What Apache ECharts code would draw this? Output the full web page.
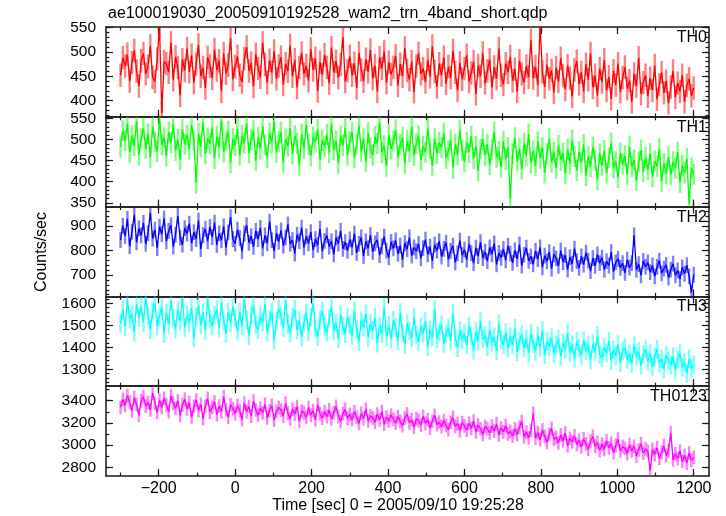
<!DOCTYPE html>
<html><head><meta charset="utf-8">
<script src="https://cdn.jsdelivr.net/npm/echarts@6/dist/echarts.min.js"></script>
<style>html,body{margin:0;padding:0;background:#fff}#c{width:726px;height:516px}</style>
</head><body><div id="c"></div>
<script>
// time grid of the light curve (seconds from 2005/09/10 19:25:28)
const tStart = -300, tStep = 6;

const th0 = [452,488,471,495,440,478,503,461,430,482,
497,455,470,512,448,439,486,552,375,480,
476,458,519,443,490,468,411,484,462,507,
459,493,437,475,514,450,468,426,489,471,
446,505,463,482,419,497,456,473,528,444,
470,491,452,438,486,510,461,477,429,495,
466,448,519,474,437,483,458,502,445,471,
489,433,476,461,513,450,484,427,468,498,
455,472,441,506,463,487,420,479,453,494,
468,436,509,458,481,447,474,531,439,462,
491,452,477,426,498,463,440,485,459,504,
445,472,419,488,466,501,437,479,454,468,
492,431,475,450,508,462,443,480,418,471,
497,455,466,438,484,449,512,460,428,476,
452,489,435,470,447,503,458,421,478,444,
466,493,439,457,480,414,472,450,498,436,
461,484,427,469,445,507,452,433,476,458,
490,441,465,419,482,455,437,471,448,524,
446,470,432,553,459,428,474,445,462,417,
468,439,487,451,423,472,446,409,463,481,
434,458,419,475,443,497,427,452,411,466,
438,484,421,449,404,461,432,476,418,447,
469,425,441,398,455,430,488,414,437,452,
409,446,421,472,403,433,458,416,440,395,
428,461,407,436,419,452,398,431,445,410,426];

const th1 = [482,521,497,538,470,509,486,544,463,502,
527,479,513,458,531,495,472,549,488,506,
461,518,493,536,474,500,452,524,489,511,
477,535,498,397,515,483,541,466,503,490,
529,455,508,481,547,471,497,519,445,502,
486,526,463,509,492,538,468,499,521,450,
505,478,532,487,457,514,493,543,470,496,
518,446,501,484,527,466,509,491,440,513,
479,535,488,461,506,494,524,452,498,483,
512,469,538,476,497,444,509,486,528,463,
495,518,457,489,534,472,501,448,516,480,
463,507,491,541,469,485,437,512,478,496,
523,459,488,505,444,497,472,531,462,490,
509,451,484,470,526,479,438,502,467,493,
481,515,456,473,498,432,489,464,522,475,
447,493,470,508,455,484,426,477,501,462,
489,441,476,518,458,472,435,496,453,481,
360,467,504,449,478,430,491,462,513,445,
473,438,495,456,481,421,466,502,447,470,
432,486,451,468,419,477,443,498,460,427,
471,445,488,414,459,436,482,451,405,466,
439,474,421,457,492,433,449,410,468,442,
461,418,483,436,452,403,447,475,424,458,
429,466,412,449,437,478,401,443,420,459,
416,447,432,470,398,439,421,455,348,433,417];

const th2 = [842,901,858,928,817,876,945,833,889,861,
912,826,870,953,848,884,809,897,866,930,
837,879,902,815,864,940,852,823,891,868,
909,829,874,846,921,805,862,887,838,896,
854,913,822,869,841,898,811,873,935,846,
827,884,850,796,867,903,831,858,814,879,
846,892,808,861,829,917,842,798,870,835,
881,819,853,906,826,842,787,864,838,893,
812,857,829,874,801,846,822,888,797,839,
861,815,838,784,852,827,879,806,834,798,
845,812,868,790,826,853,777,837,809,862,
794,829,843,781,817,856,799,772,835,808,
841,786,819,762,830,805,853,779,812,797,
826,768,809,844,784,815,757,823,799,838,
775,806,832,764,798,819,751,788,840,781,
803,762,826,789,748,811,777,834,769,795,
756,812,784,829,743,790,770,806,759,818,
787,749,801,765,824,738,782,811,757,776,
743,798,764,812,731,779,755,793,726,784,
768,737,799,752,781,722,773,745,807,756,
729,776,742,791,758,716,769,737,784,748,
771,722,756,738,793,713,751,766,729,748,
709,762,730,748,861,721,744,698,757,733,
751,712,739,694,733,758,707,726,741,689,
722,746,698,719,683,731,705,740,694,628,702];

const th3 = [1508,1572,1493,1619,1527,1551,1468,1596,1534,1587,
1512,1628,1545,1479,1563,1601,1497,1540,1583,1461,
1556,1505,1611,1532,1482,1568,1519,1624,1490,1547,
1513,1579,1442,1536,1593,1501,1558,1476,1621,1528,
1496,1547,1570,1487,1604,1522,1463,1559,1511,1584,
1532,1473,1561,1498,1617,1524,1452,1546,1589,1503,
1480,1542,1515,1598,1467,1526,1560,1431,1519,1575,
1544,1489,1612,1506,1463,1537,1571,1478,1521,1446,
1510,1557,1472,1534,1601,1485,1448,1523,1566,1491,
1467,1529,1584,1475,1512,1438,1549,1496,1461,1537,
1503,1452,1566,1481,1427,1519,1490,1552,1444,1508,
1476,1535,1418,1497,1462,1581,1449,1501,1437,1523,
1489,1430,1558,1466,1412,1507,1474,1442,1536,1458,
1425,1494,1463,1519,1401,1478,1447,1572,1439,1470,
1502,1417,1461,1489,1429,1553,1444,1398,1476,1435,
1463,1409,1497,1452,1386,1471,1428,1518,1437,1455,
1402,1479,1421,1446,1384,1507,1433,1412,1468,1395,
1448,1411,1486,1379,1430,1457,1396,1439,1374,1463,
1417,1381,1452,1399,1478,1365,1426,1403,1444,1372,
1409,1437,1358,1421,1390,1466,1377,1412,1349,1428,
1395,1362,1431,1383,1409,1341,1416,1378,1453,1367,
1352,1401,1373,1428,1340,1389,1361,1412,1329,1384,
1397,1344,1372,1326,1408,1359,1381,1317,1367,1393,
1336,1372,1310,1355,1391,1328,1347,1301,1364,1339,
1318,1357,1296,1342,1374,1309,1331,1280,1348,1303,1322];

const th0123 = [3341,3412,3358,3446,3387,3309,3429,3365,3271,3398,
3437,3352,3384,3318,3469,3376,3295,3408,3341,3422,
3366,3301,3445,3379,3332,3398,3268,3361,3414,3327,
3382,3255,3349,3406,3314,3367,3239,3352,3421,3298,
3341,3389,3276,3352,3300,3437,3318,3251,3366,3329,
3284,3355,3312,3229,3378,3301,3347,3262,3396,3318,
3270,3334,3291,3368,3245,3312,3359,3226,3304,3341,
3316,3262,3377,3289,3238,3325,3281,3348,3215,3307,
3293,3250,3339,3271,3312,3228,3364,3285,3244,3301,
3257,3318,3236,3291,3349,3262,3213,3284,3322,3241,
3278,3229,3301,3253,3197,3286,3240,3325,3218,3264,
3245,3207,3279,3228,3301,3189,3252,3216,3271,3233,
3198,3257,3214,3176,3243,3281,3201,3229,3162,3238,
3222,3181,3259,3196,3230,3154,3214,3267,3185,3208,
3166,3221,3179,3140,3205,3248,3170,3193,3131,3202,
3174,3135,3198,3152,3217,3119,3181,3146,3096,3169,
3148,3110,3172,3127,3193,3092,3154,3118,3176,3101,
3125,3083,3147,3096,3161,3212,3074,3118,3065,3133,
3285,3061,3112,3047,3138,3079,3026,3098,3152,3054,
3071,3020,3093,3038,3109,2996,3062,3031,3084,3007,
3043,2984,3056,3012,2961,3037,3078,2990,3025,2953,
3008,2962,3041,2975,3019,2932,2998,3055,2948,2986,
2971,2925,3004,2947,2989,2901,2958,3012,2929,2966,
2943,2770,2961,2915,2978,2882,2934,2996,2905,2950,
3110,2868,2921,2879,2946,2853,2907,2838,2931,2862,2889];

// estimated 1-sigma error bar per band
const errors = [24, 25, 32, 42, 62];
const bandNames = ['TH0', 'TH1', 'TH2', 'TH3', 'TH0123'];
const bandColors = ['#ff0000', '#00ff00', '#0000ff', '#00ffff', '#ff00ff'];
const bandValues = [th0, th1, th2, th3, th0123];

// axis ranges and tick labels
const xRange = [-338, 1240];
const xTickLabels = [-200, 0, 200, 400, 600, 800, 1000, 1200];
const yRanges = [[367, 551], [341, 554], [613, 978], [1223, 1631], [2722, 3531]];
const yTickLabels = [[400, 450, 500, 550], [350, 400, 450, 500, 550], [700, 800, 900], [1300, 1400, 1500, 1600], [2800, 3000, 3200, 3400]];
const yMinorSteps = [10, 10, 20, 20, 100];

const titleText = 'ae100019030_20050910192528_wam2_trn_4band_short.qdp';
const xName = 'Time [sec] 0 = 2005/09/10 19:25:28';
const yName = 'Counts/sec';

function steps(a, b, s) { const r = []; for (let v = Math.ceil(a / s) * s; v <= b; v += s) r.push(v); return r; }

const times = th0.map((_, i) => tStart + i * tStep);
const FONT = '"Liberation Sans", Arial, sans-serif';
const AX = '#1a1a1a';

const plotTop = 27, plotBottom = 476, left = 106, right = 17;
const ph = (plotBottom - plotTop) / 5;
const grids = [], xAxes = [], yAxes = [], series = [];
const xMinor = steps(-300, 1200, 100);

const lineOn = { show: true, onZero: false, lineStyle: { color: AX, width: 1.5 } };
const lineOff = { show: false, onZero: false };

for (let k = 0; k < 5; k++) {
  grids.push({ left: left, right: right, top: plotTop + k * ph, height: ph, outerBoundsMode: 'none', containLabel: false });
  const base = { type: 'value', gridIndex: k, min: xRange[0], max: xRange[1], splitLine: { show: false }, offset: 0 };
  const last = k === 4;
  xAxes.push(Object.assign({}, base, { position: 'bottom', axisLine: lineOn,
    axisTick: { show: true, inside: true, length: 7, customValues: xTickLabels, lineStyle: { color: AX, width: 1.2 } },
    axisLabel: { show: last, customValues: xTickLabels, margin: 5, fontSize: 16, fontFamily: FONT, color: '#000',
      formatter: v => v < 0 ? '\u2212' + (-v) : String(v) } }));
  xAxes.push(Object.assign({}, base, { position: 'bottom', axisLine: lineOff,
    axisTick: { show: true, inside: true, length: 3.5, customValues: xMinor, lineStyle: { color: AX, width: 1.2 } },
    axisLabel: { show: false } }));
  xAxes.push(Object.assign({}, base, { position: 'top', axisLine: lineOn,
    axisTick: { show: true, inside: true, length: 7, customValues: xTickLabels, lineStyle: { color: AX, width: 1.2 } },
    axisLabel: { show: false } }));
  xAxes.push(Object.assign({}, base, { position: 'top', axisLine: lineOff,
    axisTick: { show: true, inside: true, length: 3.5, customValues: xMinor, lineStyle: { color: AX, width: 1.2 } },
    axisLabel: { show: false } }));

  const yr = yRanges[k];
  const yMinor = steps(yr[0], yr[1], yMinorSteps[k]);
  const ybase = { type: 'value', gridIndex: k, min: yr[0], max: yr[1], splitLine: { show: false }, offset: 0 };
  yAxes.push(Object.assign({}, ybase, { position: 'left', axisLine: lineOn,
    axisTick: { show: true, inside: true, length: 7, customValues: yTickLabels[k], lineStyle: { color: AX, width: 1.2 } },
    axisLabel: { show: true, customValues: yTickLabels[k], margin: 10, fontSize: 15.5, fontFamily: FONT, color: '#000',
      formatter: v => String(v) } }));
  yAxes.push(Object.assign({}, ybase, { position: 'left', axisLine: lineOff,
    axisTick: { show: true, inside: true, length: 3.5, customValues: yMinor, lineStyle: { color: AX, width: 1.2 } },
    axisLabel: { show: false } }));
  yAxes.push(Object.assign({}, ybase, { position: 'right', axisLine: lineOn,
    axisTick: { show: true, inside: true, length: 7, customValues: yTickLabels[k], lineStyle: { color: AX, width: 1.2 } },
    axisLabel: { show: false } }));
  yAxes.push(Object.assign({}, ybase, { position: 'right', axisLine: lineOff,
    axisTick: { show: true, inside: true, length: 3.5, customValues: yMinor, lineStyle: { color: AX, width: 1.2 } },
    axisLabel: { show: false } }));

  const vals = bandValues[k], err = errors[k], col = bandColors[k];
  series.push({
    type: 'custom', xAxisIndex: 4 * k, yAxisIndex: 4 * k, clip: true, silent: true, z: 1,
    data: times.map((t, i) => [t, vals[i], err]),
    encode: { x: 0, y: 1 },
    renderItem: function (params, api) {
      const x = api.value(0), y = api.value(1), e = api.value(2);
      const p1 = api.coord([x, y - e]), p2 = api.coord([x, y + e]);
      return { type: 'line', shape: { x1: p1[0], y1: p1[1], x2: p2[0], y2: p2[1] },
        style: { stroke: col, lineWidth: 2.4, opacity: 0.5 } };
    }
  });
  series.push({
    type: 'line', xAxisIndex: 4 * k, yAxisIndex: 4 * k, z: 2, silent: true,
    data: times.map((t, i) => [t, vals[i]]),
    showSymbol: false, symbol: 'none', clip: true,
    lineStyle: { color: col, width: 1.3 }, itemStyle: { color: col }
  });
}

const graphics = [
  { type: 'text', x: 108, y: 14, style: { text: titleText, font: '16px ' + FONT, fill: '#000', textAlign: 'left', textVerticalAlign: 'middle' } },
  { type: 'text', x: 398, y: 506, style: { text: xName, font: '16px ' + FONT, fill: '#000', textAlign: 'center', textVerticalAlign: 'middle' } },
  { type: 'text', x: 42, y: 252, rotation: Math.PI / 2, style: { text: yName, font: '16px ' + FONT, fill: '#000', textAlign: 'center', textVerticalAlign: 'middle' } }
];
bandNames.forEach((n, k) => {
  graphics.push({ type: 'text', x: 707, y: plotTop + k * ph + 10.5, z: 10,
    style: { text: n, font: '16px ' + FONT, fill: '#000', textAlign: 'right', textVerticalAlign: 'middle' } });
});

const chart = echarts.init(document.getElementById('c'), null, { renderer: 'canvas' });
chart.setOption({
  animation: false,
  backgroundColor: '#fff',
  grid: grids, xAxis: xAxes, yAxis: yAxes, series: series,
  graphic: graphics
});
</script></body></html>
